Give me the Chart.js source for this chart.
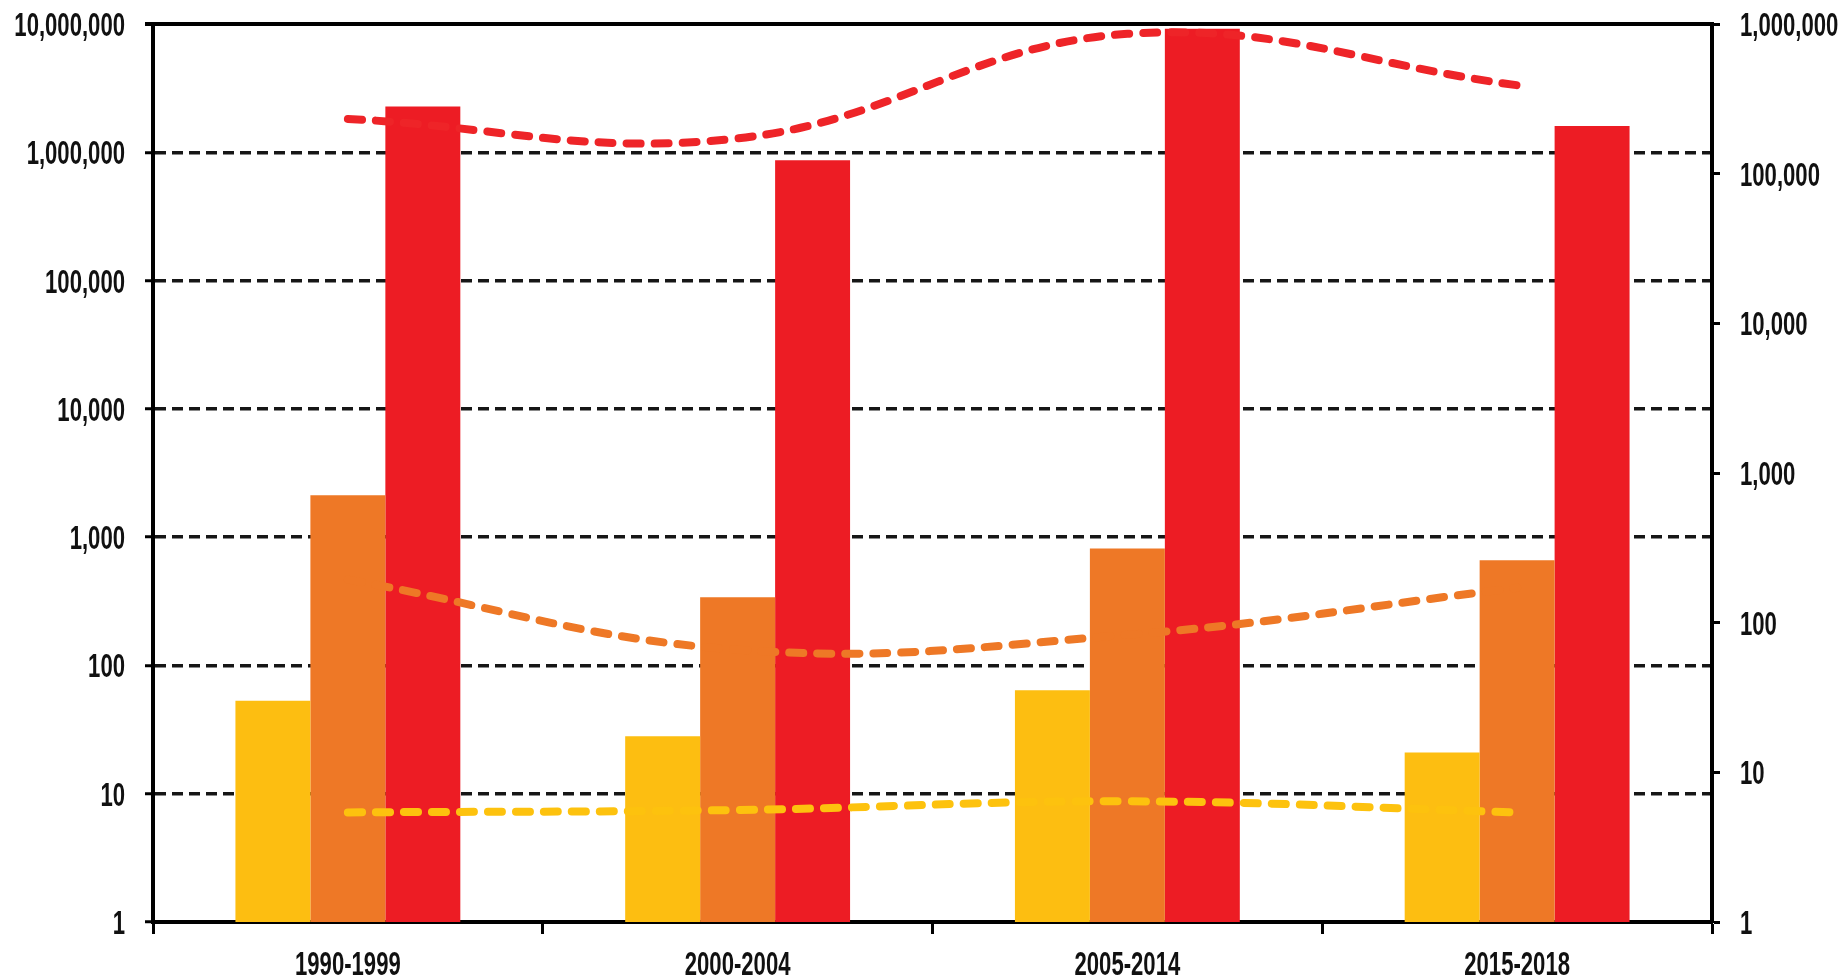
<!DOCTYPE html>
<html>
<head>
<meta charset="utf-8">
<script src="https://cdn.jsdelivr.net/npm/chart.js@4/dist/chart.umd.min.js"></script>
<style>
  html, body { margin: 0; padding: 0; background: #fff; }
  #wrap { width: 1847px; height: 980px; position: relative; }
</style>
</head>
<body>
<div id="wrap"><canvas id="chart"></canvas></div>
<script>
// periods on the x axis
const periods = ["1990-1999", "2000-2004", "2005-2014", "2015-2018"]

// bars, left axis (log)
const yellowBars = [53, 28, 64, 21]
const orangeBars = [2120, 340, 817, 661]
const redBars = [2270000, 865000, 9200000, 1600000]

// dashed lines, right axis (log)
const yellowLine = [5.4, 5.6, 6.4, 5.4]
const orangeLine = [194, 66, 83, 171]
const redLine = [232000, 172000, 860000, 390000]

// tick values
const leftTicks = [1, 10, 100, 1000, 10000, 100000, 1000000, 10000000]
const rightTicks = [1, 10, 100, 1000, 10000, 100000, 1000000]

const FONT = "'Liberation Sans', Arial, sans-serif"
const fmt = v => Number(v).toLocaleString("en-US")

// box line along the top of the plot
const topBorder = {
  id: "topBorder",
  afterDatasetsDraw(chart) {
    const {ctx, chartArea} = chart
    ctx.save()
    ctx.setLineDash([])
    ctx.strokeStyle = "#000"
    ctx.lineWidth = 4
    ctx.beginPath()
    ctx.moveTo(chartArea.left - 8, chartArea.top)
    ctx.lineTo(chartArea.right + 2, chartArea.top)
    ctx.stroke()
    ctx.restore()
  }
}

// the original uses a narrow bold face, so squeeze the labels sideways
const narrowLabels = {
  id: "narrowLabels",
  afterDraw(chart) {
    const {ctx} = chart
    const squeeze = 0.67
    const put = (text, x, y, align) => {
      ctx.save()
      ctx.translate(x, y)
      ctx.scale(squeeze, 1)
      ctx.textAlign = align
      ctx.fillText(text, 0, 0)
      ctx.restore()
    }
    ctx.save()
    ctx.fillStyle = "#111"
    ctx.font = "bold 33px " + FONT
    ctx.textBaseline = "alphabetic"
    const y = chart.scales.y
    y.ticks.forEach(t => put(fmt(t.value), y.right - 28, y.getPixelForValue(t.value) + 12, "right"))
    const y1 = chart.scales.y1
    y1.ticks.forEach(t => put(fmt(t.value), y1.left + 28, y1.getPixelForValue(t.value) + 12, "left"))
    const x = chart.scales.x
    x.ticks.forEach((t, i) => put(x.getLabelForValue(t.value), x.getPixelForValue(i), 975, "center"))
    ctx.restore()
  }
}

function lineSet(data, color) {
  return {
    type: "line",
    data: data,
    yAxisID: "y1",
    borderColor: color,
    borderWidth: 8,
    borderDash: [14, 14],
    borderCapStyle: "round",
    tension: 0.4,
    pointRadius: 0,
    fill: false,
    order: 0
  }
}

function barSet(data, color) {
  return {
    type: "bar",
    data: data,
    yAxisID: "y",
    backgroundColor: color,
    borderWidth: 0,
    order: 1
  }
}

new Chart(document.getElementById("chart"), {
  type: "bar",
  data: {
    labels: periods,
    datasets: [
      lineSet(redLine, "#EE2428"),
      lineSet(orangeLine, "#EE7826"),
      lineSet(yellowLine, "#FDC20E"),
      barSet(yellowBars, "#FDBE11"),
      barSet(orangeBars, "#EE7826"),
      barSet(redBars, "#ED1C24")
    ]
  },
  options: {
    responsive: true,
    maintainAspectRatio: false,
    animation: false,
    layout: { padding: { top: 24, left: 0, right: 0, bottom: 0 } },
    plugins: { legend: { display: false }, tooltip: { enabled: false } },
    datasets: { bar: { categoryPercentage: 0.577, barPercentage: 1.0 } },
    scales: {
      x: {
        offset: true,
        grid: {
          offset: true,
          drawOnChartArea: false,
          drawTicks: true,
          tickLength: 12,
          tickWidth: 3,
          tickColor: "#000"
        },
        border: { display: true, color: "#000", width: 4 },
        ticks: { display: false },
        afterFit: s => { s.height = 58 }
      },
      y: {
        type: "logarithmic",
        position: "left",
        min: 1,
        max: 10000000,
        afterBuildTicks: s => { s.ticks = leftTicks.map(v => ({ value: v })) },
        afterFit: s => { s.width = 153 },
        grid: {
          color: "#161616",
          lineWidth: 3.5,
          tickLength: 8,
          tickWidth: 3,
          tickColor: "#000",
          tickBorderDash: []
        },
        border: { display: true, color: "#000", width: 4, dash: [11, 6] },
        ticks: { display: false }
      },
      y1: {
        type: "logarithmic",
        position: "right",
        min: 1,
        max: 1000000,
        afterBuildTicks: s => { s.ticks = rightTicks.map(v => ({ value: v })) },
        afterFit: s => { s.width = 135 },
        grid: {
          drawOnChartArea: false,
          tickLength: 8,
          tickWidth: 3,
          tickColor: "#000"
        },
        border: { display: true, color: "#000", width: 4 },
        ticks: { display: false }
      }
    }
  },
  plugins: [topBorder, narrowLabels]
})
</script>
</body>
</html>
